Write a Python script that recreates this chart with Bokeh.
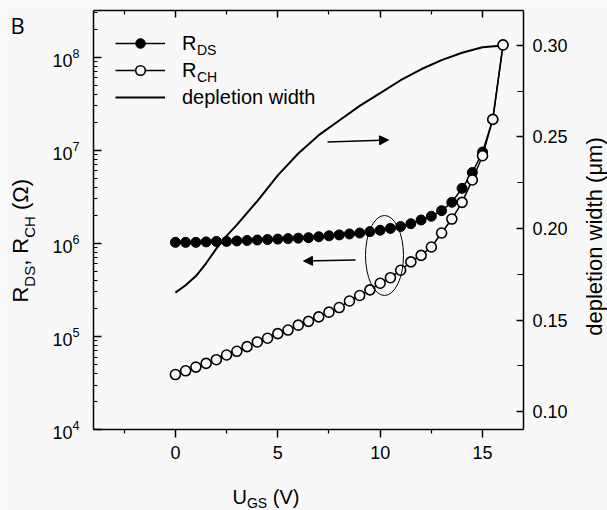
import math
from bokeh.plotting import figure
from bokeh.models import (Range1d, LinearAxis, LinearScale, LogTicker, FixedTicker, Label,
                          Arrow, NormalHead, Legend, LegendItem, PrintfTickFormatter)
from bokeh.embed import file_html
from bokeh.resources import INLINE

# ---------------- data ----------------
u_gs = [0, 0.5, 1, 1.5, 2, 2.5, 3, 3.5, 4, 4.5, 5, 5.5, 6, 6.5, 7, 7.5, 8,
        8.5, 9, 9.5, 10, 10.5, 11, 11.5, 12, 12.5, 13, 13.5, 14, 14.5, 15, 15.5, 16]
r_ds = [1.023e6, 1.023e6, 1.023e6, 1.035e6, 1.047e6, 1.047e6, 1.059e6, 1.072e6,
        1.084e6, 1.096e6, 1.109e6, 1.122e6, 1.135e6, 1.148e6, 1.175e6, 1.202e6,
        1.230e6, 1.259e6, 1.288e6, 1.334e6, 1.380e6, 1.445e6, 1.514e6, 1.622e6,
        1.778e6, 1.950e6, 2.239e6, 2.754e6, 3.890e6, 5.754e6, 9.550e6, 2.138e7, 1.349e8]
r_ch = [3.89e4, 4.27e4, 4.68e4, 5.13e4, 5.62e4, 6.31e4, 6.92e4, 7.76e4, 8.71e4,
        9.55e4, 1.07e5, 1.17e5, 1.32e5, 1.45e5, 1.62e5, 1.82e5, 2.04e5, 2.40e5,
        2.75e5, 3.16e5, 3.72e5, 4.27e5, 5.13e5, 6.31e5, 7.41e5, 9.12e5, 1.29e6,
        1.82e6, 2.75e6, 4.79e6, 8.71e6, 2.14e7, 1.35e8]
dep_u = [0, 0.5, 1, 1.5, 2, 2.5, 3, 4, 5, 6, 7, 8, 9, 10, 11, 12, 13, 14, 15, 16]
dep_w = [0.165, 0.169, 0.174, 0.181, 0.189, 0.196, 0.202, 0.215, 0.229, 0.241,
         0.251, 0.259, 0.267, 0.274, 0.281, 0.287, 0.292, 0.296, 0.299, 0.300]

x_ticks = [0, 5, 10, 15]
x_minor = [-2.5, 2.5, 7.5, 12.5]
w_ticks = [0.10, 0.15, 0.20, 0.25, 0.30]
w_minor = [0.125, 0.175, 0.225, 0.275]

# ---------------- layout ----------------
W, H = 607, 510
FL, FR, FT, FB = 93, 523, 10, 429          # plot box in screen pixels
XMIN, XMAX = -4, 17                        # U_GS axis limits
LMIN, LMAX = 4.0, 8.5                      # log10 resistance limits
DMIN, DMAX = 0.0902, 0.3191                # depletion width limits
BG = "#f8f8f8"
FONT = "Liberation Sans"

kx = (XMAX - XMIN) / (FR - FL)
ky = (LMAX - LMIN) / (FB - FT)
kd = (DMAX - DMIN) / (FB - FT)
# the frame fills the whole canvas; axes sit at fixed locations around the box
X_LEFT, X_RIGHT = XMIN - FL * kx, XMAX + (W - FR) * kx
L_BOT, L_TOP = LMIN - (H - FB) * ky, LMAX + FT * ky
D_BOT, D_TOP = DMIN - (H - FB) * kd, DMAX + FT * kd


def dx(sx):
    return XMIN + (sx - FL) * kx


def dy(sy):
    return 10 ** (LMIN + (FB - sy) * ky)


ARIAL = {"R": 722, "D": 722, "S": 667, "C": 722, "H": 722, ",": 278, " ": 278,
         "(": 333, ")": 333, "Ω": 768, "U": 722, "G": 778, "V": 667}


def tw(text, size):
    return sum(ARIAL.get(c, 556) for c in text) * size / 1000.0


p = figure(width=W, height=H, y_axis_type="log",
           x_range=Range1d(X_LEFT, X_RIGHT), y_range=Range1d(10 ** L_BOT, 10 ** L_TOP),
           output_backend="svg", toolbar_location=None, min_border=0,
           background_fill_color=BG, border_fill_color=BG, outline_line_color=None)
p.grid.visible = False
p.extra_y_ranges = {"dep": Range1d(D_BOT, D_TOP)}
p.extra_y_scales = {"dep": LinearScale()}

# bottom axis
xa = p.xaxis[0]
xa.fixed_location = 10 ** LMIN
xa.bounds = (XMIN, XMAX)
xa.ticker = FixedTicker(ticks=x_ticks, minor_ticks=x_minor)
xa.major_tick_in = 0
xa.major_tick_out = 8
xa.minor_tick_in = 0
xa.minor_tick_out = 4
xa.major_label_standoff = 8

# left log axis
ya = p.yaxis[0]
ya.fixed_location = XMIN
ya.bounds = (10 ** LMIN, 10 ** LMAX)
ya.ticker = LogTicker(desired_num_ticks=6, num_minor_ticks=10)
ya.major_tick_in = 8
ya.major_tick_out = 0
ya.minor_tick_in = 4
ya.minor_tick_out = 0
ya.major_label_standoff = 14

# right axis (depletion width, linear)
ra = LinearAxis(y_range_name="dep", fixed_location=XMAX, bounds=(DMIN, DMAX),
                ticker=FixedTicker(ticks=w_ticks, minor_ticks=w_minor),
                formatter=PrintfTickFormatter(format="%.2f"))
ra.major_tick_in = 7
ra.major_tick_out = 0
ra.minor_tick_in = 6
ra.minor_tick_out = 0
ra.major_label_standoff = 9
p.add_layout(ra, "right")

# top axis (ticks only)
ta = LinearAxis(fixed_location=10 ** LMAX, bounds=(XMIN, XMAX),
                ticker=FixedTicker(ticks=x_ticks, minor_ticks=x_minor))
ta.major_tick_in = 7
ta.major_tick_out = 0
ta.minor_tick_in = 4
ta.minor_tick_out = 0
ta.major_label_text_alpha = 0
ta.major_label_text_font_size = "1px"
ta.major_label_standoff = 0
p.add_layout(ta, "above")

for ax in (xa, ya, ra, ta):
    ax.axis_line_color = "black"
    ax.axis_line_width = 1.5
    ax.major_tick_line_color = "black"
    ax.major_tick_line_width = 1.5
    ax.minor_tick_line_color = "black"
    ax.minor_tick_line_width = 1.2
    ax.major_label_text_color = "black"
    ax.major_label_text_font = FONT
for ax in (xa, ya, ra):
    ax.major_label_text_font_size = "18px"

# ---------------- glyphs ----------------
dep_line = p.line(dep_u, dep_w, y_range_name="dep", line_color="black", line_width=2)
rds_line = p.line(u_gs, r_ds, line_color="black", line_width=1.5)
rds_pts = p.scatter(u_gs, r_ds, marker="circle", size=10,
                    fill_color="black", line_color="black", line_width=1)
rch_line = p.line(u_gs, r_ch, line_color="black", line_width=1.5)
rch_pts = p.scatter(u_gs, r_ch, marker="circle", size=10,
                    fill_color=BG, line_color="black", line_width=1.6)

# ellipse marking the two curves at ~10 V
p.ellipse(x=[dx(384)], y=[dy(255)], width=38, height=80,
          width_units="screen", height_units="screen",
          fill_color=None, line_color="black", line_width=1)

# arrows
p.add_layout(Arrow(x_start=dx(327), y_start=dy(141.5), x_end=dx(388), y_end=dy(139.5),
                   line_color="black", line_width=1.5,
                   end=NormalHead(size=9, fill_color="black", line_color="black", line_width=1)))
p.add_layout(Arrow(x_start=dx(355), y_start=dy(259.5), x_end=dx(303), y_end=dy(260.5),
                   line_color="black", line_width=1.5,
                   end=NormalHead(size=9, fill_color="black", line_color="black", line_width=1)))

# ---------------- legend ----------------
LEG_X, LEG_TOP, GW, GH, STAND, SP = 115, 31, 50, 24, 17, 3
leg_h = 3 * GH + 2 * SP
legend = Legend(items=[LegendItem(label="R", renderers=[rds_line, rds_pts]),
                       LegendItem(label="R", renderers=[rch_line, rch_pts]),
                       LegendItem(label="depletion width", renderers=[dep_line])],
                location=(LEG_X, H - LEG_TOP - leg_h), margin=0, padding=0, spacing=SP,
                glyph_width=GW, glyph_height=GH, label_height=GH, label_standoff=STAND,
                label_text_font=FONT, label_text_font_size="20px",
                label_text_color="black",
                background_fill_alpha=0, border_line_color=None)
p.add_layout(legend)


def piece(text, sx, sy, size, angle=0.0, align="left", font=FONT):
    p.add_layout(Label(x=dx(sx), y=dy(sy), text=text, text_font=font,
                       text_font_size=f"{size}px", text_baseline="middle",
                       text_align=align, angle=angle, text_color="black"))


sub_x = LEG_X + GW + STAND + tw("R", 20)
for i, sub in enumerate(["DS", "CH"]):
    row_c = LEG_TOP + GH / 2 + i * (GH + SP)
    piece(sub, sub_x, row_c + 6, 14)

# ---------------- axis titles built from pieces (subscripts) ----------------
# left: R_DS, R_CH (Ω)  (rotated, reading upward)
left_parts = [("R", 22, False), ("DS", 15, True), (", ", 22, False),
              ("R", 22, False), ("CH", 15, True), (" (Ω)", 22, False)]
total = sum(tw(t, s) for t, s, _ in left_parts)
sy = 240 + total / 2
for t, s, is_sub in left_parts:
    lead = len(t) - len(t.lstrip(" "))
    piece(t.strip(" "), 29 if is_sub else 20, sy - tw(" " * lead, s), s, angle=math.pi / 2)
    sy -= tw(t, s)

# bottom: U_GS (V)
sx = 232
for t, s, is_sub in [("U", 20, False), ("GS", 14, True), (" (V)", 20, False)]:
    lead = len(t) - len(t.lstrip(" "))
    piece(t.strip(" "), sx + tw(" " * lead, s), 502 if is_sub else 496, s)
    sx += tw(t, s)

# right: depletion width (μm)
piece("depletion width  (μm)", 594, 233, 22, angle=math.pi / 2, align="center")

# panel letter
piece("B", 10, 24, 22, font="Open Sans")

open("out.html", "w").write(file_html(p, INLINE))
